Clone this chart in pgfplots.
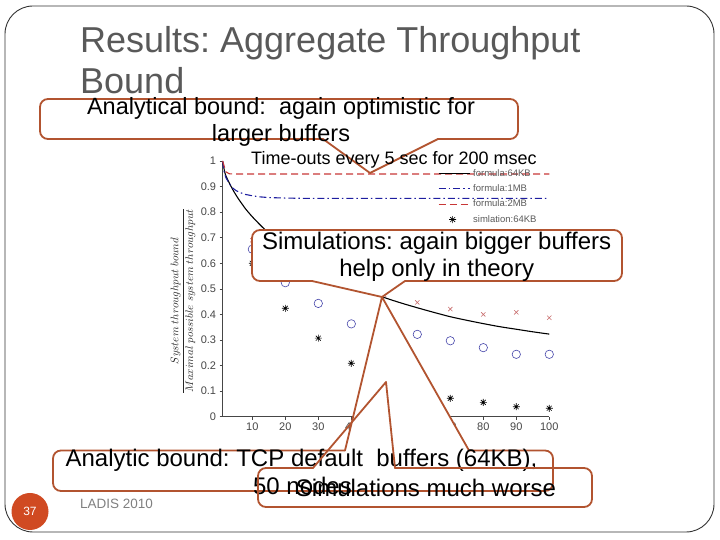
\documentclass[border=0pt]{standalone}
\usepackage{pgfplots}
\pgfplotsset{compat=1.18}
\usepackage{amsmath}
\usepackage{fontspec}
\setmainfont{Liberation Sans}
\frenchspacing

\definecolor{callout}{RGB}{178,84,48}
\definecolor{titlegray}{RGB}{89,89,89}
\definecolor{numorange}{RGB}{208,74,34}
\definecolor{fblue}{RGB}{30,30,160}
\definecolor{fred}{RGB}{200,55,55}
\definecolor{sblue}{RGB}{70,70,170}
\definecolor{sred}{RGB}{200,110,110}
\definecolor{axgray}{RGB}{70,70,70}
\definecolor{leggray}{RGB}{90,90,90}

\tikzset{co/.style={draw=callout, line width=1.8pt, line join=round, line cap=round}}
\pgfdeclareplotmark{mstar}{%
  \pgfpathmoveto{\pgfqpoint{-\pgfplotmarksize}{0pt}}\pgfpathlineto{\pgfqpoint{\pgfplotmarksize}{0pt}}%
  \pgfpathmoveto{\pgfqpoint{0pt}{-\pgfplotmarksize}}\pgfpathlineto{\pgfqpoint{0pt}{\pgfplotmarksize}}%
  \pgfpathmoveto{\pgfqpoint{-0.7\pgfplotmarksize}{-0.7\pgfplotmarksize}}\pgfpathlineto{\pgfqpoint{0.7\pgfplotmarksize}{0.7\pgfplotmarksize}}%
  \pgfpathmoveto{\pgfqpoint{-0.7\pgfplotmarksize}{0.7\pgfplotmarksize}}\pgfpathlineto{\pgfqpoint{0.7\pgfplotmarksize}{-0.7\pgfplotmarksize}}%
  \pgfusepathqstroke}

\begin{document}
\begin{tikzpicture}
\useasboundingbox (0,0) rectangle (720pt,540pt);
\begin{axis}[
  at={(222.6pt,123.3pt)}, anchor=south west,
  scale only axis, width=326.7pt, height=255.7pt,
  xmin=1, xmax=100, ymin=0, ymax=1,
  axis x line*=bottom, axis y line*=left,
  axis line style={draw=axgray, line width=0.6pt, -},
  xtick={10,20,30,40,50,60,70,80,90,100},
  ytick={0,0.1,0.2,0.3,0.4,0.5,0.6,0.7,0.8,0.9,1},
  tick style={draw=axgray, line width=0.6pt},
  tick align=outside, major tick length=3pt,
  ticklabel style={font=\fontsize{11}{12}\selectfont, text=axgray},
  /pgf/number format/assume math mode=true,
  clip=false,
  legend style={draw=none, fill=none, at={(0.659,0.9765)}, anchor=north west,
    font=\fontsize{9.5}{10}\selectfont, text=leggray, row sep=3pt, inner sep=0pt,
    column sep=1pt},
  legend cell align=left,
  legend image code/.code={\draw[mark repeat=2,mark phase=2,#1] plot coordinates {(0pt,0pt) (14pt,0pt) (31pt,0pt)};},
]
\addplot[black, line width=1.1pt, smooth] coordinates {
(1,1.0) (1.5,0.965) (2,0.942) (3,0.915) (4,0.89) (5,0.868) (6,0.848) (7,0.83) (8,0.812) (10,0.782) (12,0.755) (14,0.73) (17,0.70) (20,0.672) (25,0.628) (30,0.59) (35,0.555) (40,0.518) (45,0.49) (50,0.466) (55,0.445) (60,0.426) (65,0.408) (70,0.391) (75,0.377) (80,0.364) (85,0.352) (90,0.342) (95,0.332) (100,0.323)};
\addlegendentry{formula:64KB}
\addplot[fblue, line width=1.1pt, dash pattern=on 7pt off 3pt on 1.5pt off 3pt] coordinates {
(1,1.0) (1.5,0.955) (2,0.935) (3,0.912) (4,0.895) (5,0.885) (6,0.878) (8,0.869) (10,0.864) (12,0.86) (15,0.857) (20,0.855) (25,0.854) (100,0.854)};
\addlegendentry{formula:1MB}
\addplot[fred, line width=1.1pt, dash pattern=on 7pt off 4pt] coordinates {
(1,1.0) (2,0.958) (3,0.95) (5,0.949) (100,0.949)};
\addlegendentry{formula:2MB}
\addplot[only marks, mark=mstar, mark size=3.5pt, black, line width=0.6pt] coordinates {
(10,0.60) (20,0.424) (30,0.307) (40,0.209) (50,0.135) (60,0.10) (70,0.072) (80,0.056) (90,0.039) (100,0.033)};
\addlegendentry{simlation:64KB}
\addplot[only marks, mark=o, mark size=4.2pt, sblue, line width=0.6pt] coordinates {
(10,0.655) (20,0.524) (30,0.443) (40,0.363) (50,0.345) (60,0.322) (70,0.297) (80,0.27) (90,0.244) (100,0.244)};
\addlegendentry{simlation:1MB}
\addplot[only marks, mark=x, mark size=3pt, sred, line width=0.6pt] coordinates {
(10,0.69) (20,0.62) (30,0.56) (40,0.51) (50,0.476) (60,0.447) (70,0.421) (80,0.40) (90,0.408) (100,0.387)};
\addlegendentry{simlation:2MB}
\end{axis}

\begin{scope}[x=1pt, y=-1pt, shift={(0pt,540pt)}]
% y label
\node[rotate=90, font=\fontsize{11.3}{13}\selectfont, text=black!85] at (183,301)
  {$\dfrac{System\ throughput\ bound}{Maximal\ possible\ system\ throughput}$};
% slide frame
\draw[line width=0.9pt, draw=black!80, rounded corners=28pt] (5,6) rectangle (714,532);
% title
\node[anchor=base west, inner sep=0, font=\fontsize{36}{41}\selectfont, text=titlegray] at (80,53) {Results: Aggregate Throughput};
\node[anchor=base west, inner sep=0, font=\fontsize{36}{41}\selectfont, text=titlegray] at (80,94) {Bound};
% callout 1 (no fill)
\draw[co, rounded corners=8pt] (323,139) -- (40,139) -- (40,99) -- (518,99) -- (518,139) -- (438,139);
\draw[co] (438,139) -- (370,173) -- (323,139);
\node[anchor=base, inner sep=0, font=\fontsize{23.5}{27}\selectfont] at (281,115) {Analytical bound:\ \ again optimistic for};
\node[anchor=base, inner sep=0, font=\fontsize{23.5}{27}\selectfont] at (281,141.7) {larger buffers};
% time-outs text
\node[anchor=base west, inner sep=0, font=\fontsize{18}{20}\selectfont] at (251,165) {Time-outs every 5 sec for 200 msec};
% simulations callout (white)
\fill[white, rounded corners=8pt] (252,230) rectangle (622,281);
\fill[white] (312,281) -- (382,297) -- (405,281) -- cycle;
\draw[co, rounded corners=8pt] (312,281) -- (252,281) -- (252,230) -- (622,230) -- (622,281) -- (405,281);
\draw[co] (405,281) -- (382,297) -- (312,281);
\node[anchor=base, inner sep=0, font=\fontsize{24}{27}\selectfont] at (436.7,250) {Simulations: again bigger buffers};
\node[anchor=base, inner sep=0, font=\fontsize{24}{27}\selectfont] at (436.7,276.7) {help only in theory};
% callout A (white)
\fill[white, rounded corners=8pt] (53,450.5) rectangle (553,491);
\fill[white] (345,450.5) -- (382,297) -- (469,450.5) -- cycle;
\draw[co, rounded corners=8pt] (345,450.5) -- (53,450.5) -- (53,491) -- (553,491) -- (553,450.5) -- (469,450.5);
\draw[co] (469,450.5) -- (382,297) -- (345,450.5);
\node[anchor=base, inner sep=0, font=\fontsize{24}{27}\selectfont] at (301.5,467) {Analytic bound: TCP default\ \ buffers (64KB),};
\node[anchor=base, inner sep=0, font=\fontsize{24}{27}\selectfont] at (302.5,495) {50 nodes};
% callout B (no fill)
\draw[co, rounded corners=8pt] (313,468) -- (258,468) -- (258,507) -- (592,507) -- (592,468) -- (395,468);
\draw[co] (395,468) -- (386,382) -- (313,468);
\node[anchor=base, inner sep=0, font=\fontsize{24}{27}\selectfont] at (426,497) {Simulations much worse};
% footer
\fill[numorange] (30,511.5) circle[radius=18.5pt];
\node[text=white, font=\fontsize{12}{14}\selectfont] at (30,511.5) {37};
\node[anchor=base west, inner sep=0, text=black!50, font=\fontsize{13.5}{15}\selectfont] at (80,509) {LADIS 2010};
\end{scope}
\end{tikzpicture}
\end{document}
